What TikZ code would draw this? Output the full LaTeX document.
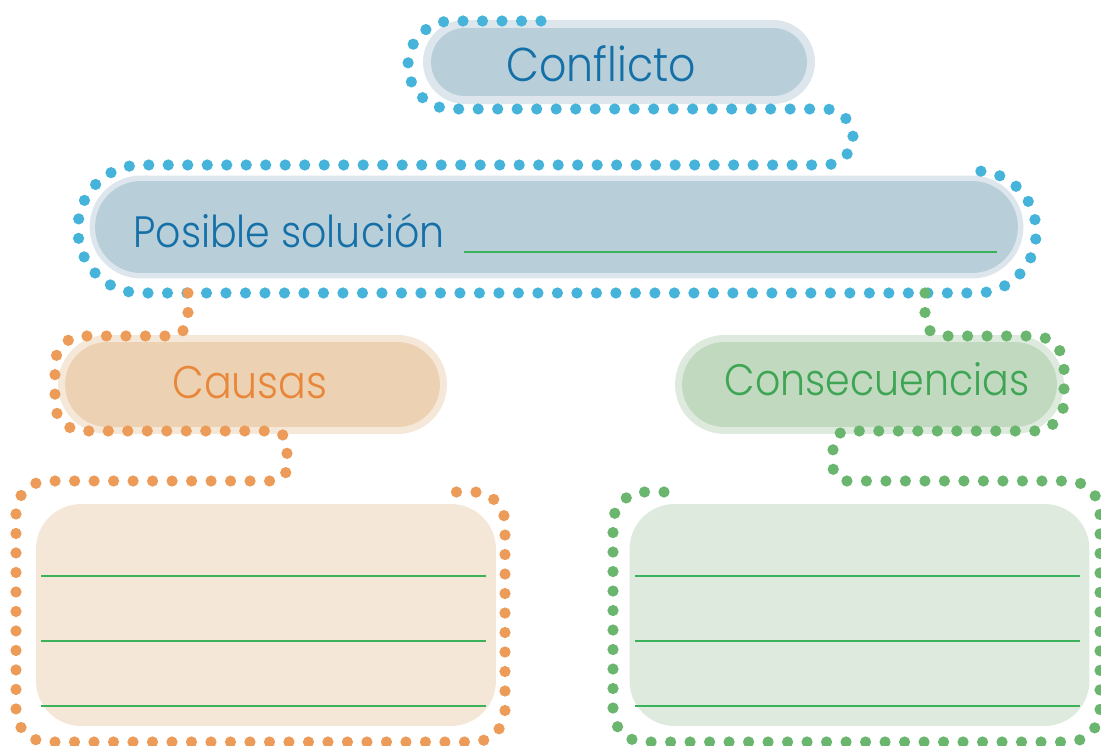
\documentclass[tikz,border=0pt]{standalone}
\usepackage{fontspec}
\usepackage{tikz}
\usepackage{xcolor}
\usetikzlibrary{shapes.misc}
\newfontfamily\handfont[FakeStretch=0.9]{Poppins Light}
\definecolor{bluedot}{HTML}{45B3DA}
\definecolor{bluetext}{HTML}{1570A8}
\definecolor{bluepill}{HTML}{B8CFDA}
\definecolor{bluehalo}{HTML}{DCE6EC}
\definecolor{orangedot}{HTML}{EC9B59}
\definecolor{orangetext}{HTML}{E8873A}
\definecolor{orangepill}{HTML}{ECD2B2}
\definecolor{orangehalo}{HTML}{F5E8D8}
\definecolor{orangebox}{HTML}{F4E7D7}
\definecolor{greendot}{HTML}{6AB66E}
\definecolor{greentext}{HTML}{3DA553}
\definecolor{greenpill}{HTML}{C1D9BF}
\definecolor{greenhalo}{HTML}{DFEADE}
\definecolor{greenbox}{HTML}{DFEADF}
\definecolor{rule}{HTML}{3BB15A}
\tikzset{
  pill/.style={rounded rectangle, inner sep=0pt, minimum width=7.5cm, minimum height=1.7cm},
  title/.style={anchor=base, inner sep=0pt, font=\handfont\fontsize{26}{30}\selectfont},
  dots/.style={line width=0.225cm, line cap=round, dash pattern=on 0pt off 0.39cm},
  answerbox/.style={rectangle, rounded corners=0.9cm, minimum width=9.2cm, minimum height=4.44cm},
  writeline/.style={draw=rule, line width=0.6pt}
}

\begin{document}
\begin{tikzpicture}[x=0.02cm, y=-0.02cm]
        \useasboundingbox (0,0) rectangle (1101,746);
        % pills
        \node[pill, fill=bluepill, minimum width=7.52cm, minimum height=1.36cm,
              preaction={draw=bluehalo, line width=0.32cm}] (conflictoPill) at (619,62) {};
        \node[pill, fill=bluepill, minimum width=18.46cm, minimum height=1.84cm,
              preaction={draw=bluehalo, line width=0.22cm}] (solucionPill) at (556.5,227) {};
        \node[pill, fill=orangepill, preaction={draw=orangehalo, line width=0.28cm}] (causasPill) at (252.5,384.5) {};
        \node[pill, fill=greenpill, preaction={draw=greenhalo, line width=0.28cm}] (consecPill) at (869.5,384.5) {};
        % answer boxes
        \node[answerbox, fill=orangebox] (causasBox) at (266,615) {};
        \node[answerbox, fill=greenbox] (consecBox) at (859.5,615) {};
        \foreach \y in {576,641,706} {
          \draw[writeline] (41,\y) -- (486,\y);
          \draw[writeline] (635,\y) -- (1080,\y);
        }
        % titles
        \node[title, text=bluetext, font=\handfont\fontsize{27}{30}\selectfont] (conflicto) at (601,82) {Conflicto};
        \node[title, anchor=base west, text=bluetext, font=\handfont\fontsize{25}{30}\selectfont] (solucion) at (133,248) {Posible solución};
        \draw[writeline] (464,252) -- (997,252);
        \node[title, text=orangetext] (causas) at (250,398) {Causas};
        \node[title, text=greentext, font=\handfont\fontsize{25}{30}\selectfont] (consec) at (877,395) {Consecuencias};
        % dotted outlines
        \draw[dots, draw=bluedot] (541,21) [rounded corners=25pt] -- (408,21) -- (408,109) -- (620,109)
          [rounded corners=16pt] -- (853,109) -- (853,165) -- (500,165)
          [rounded corners=36pt] -- (78,165) -- (78,293) -- (500,293)
          [rounded corners=34pt] -- (1036,293) -- (1036,171) -- (962,171);
        \draw[dots, draw=orangedot] (188,293) [rounded corners=10pt] -- (188,336) -- (120,336)
          [rounded corners=16pt] -- (55,336) -- (55,431) -- (200,431)
          [rounded corners=8pt] -- (287,431) -- (287,481) -- (150,481)
          [rounded corners=18pt] -- (16,481) -- (16,742) -- (505,742) -- (505,492) -- (449,492);
        \draw[dots, draw=greendot] (925,293) [rounded corners=10pt] -- (925,336) -- (1000,336)
          [rounded corners=17pt] -- (1064,336) -- (1064,431) -- (950,431)
          [rounded corners=8pt] -- (833,431) -- (833,481) -- (950,481)
          [rounded corners=18pt] -- (1100,481) -- (1100,742) -- (613,742) -- (613,492) -- (670,492);
      \end{tikzpicture}
\end{document}
